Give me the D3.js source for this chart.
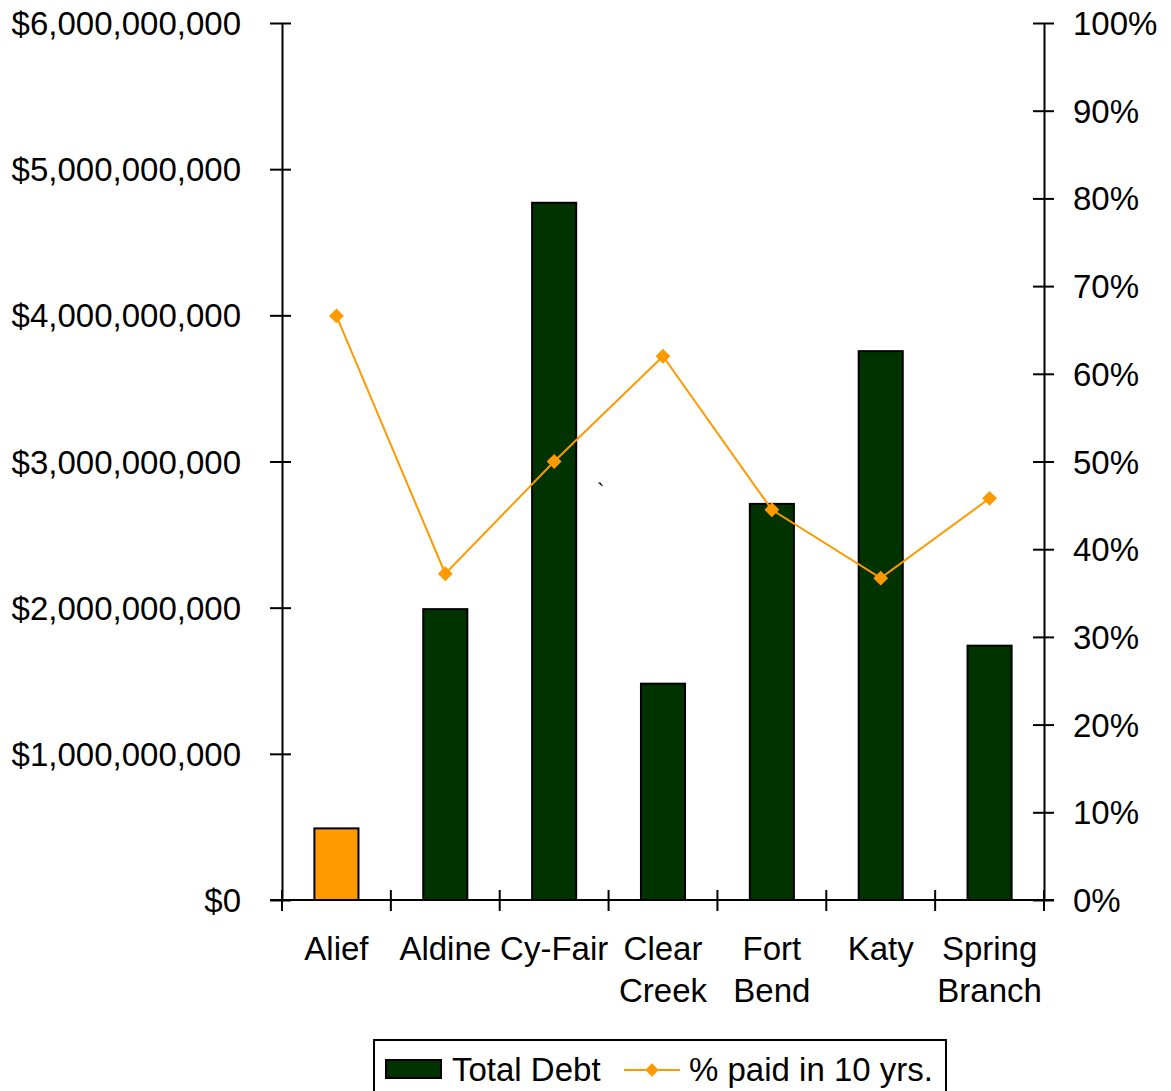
<!DOCTYPE html>
<html><head><meta charset="utf-8">
<script src="https://cdn.jsdelivr.net/npm/d3@7"></script>
<style>body{margin:0;background:#fff}svg{display:block}text{font-family:"Liberation Sans",Arial,sans-serif;fill:#000}</style>
</head><body>
<svg id="c" width="1171" height="1091"></svg>
<script>
const categories = [["Alief"],["Aldine"],["Cy-Fair"],["Clear","Creek"],["Fort","Bend"],["Katy"],["Spring","Branch"]];
const totalDebt = [490e6, 1990e6, 4770e6, 1480e6, 2710e6, 3755e6, 1740e6];
const pctPaid = [0.666, 0.372, 0.500, 0.620, 0.445, 0.367, 0.458];
const leftTicks = [0,1e9,2e9,3e9,4e9,5e9,6e9];
const rightTicks = [0,0.1,0.2,0.3,0.4,0.5,0.6,0.7,0.8,0.9,1.0];
const barColors = ["#FF9900","#003300","#003300","#003300","#003300","#003300","#003300"];

const svg = d3.select("#c");
const L=282, R=1044, T=23, B=900;
const x = d3.scaleBand().domain(categories.map((d,i)=>i)).range([L,R]).padding(0);
const yL = d3.scaleLinear().domain([0,6e9]).range([B,T]);
const yR = d3.scaleLinear().domain([0,1]).range([B,T]);
const fs = 33;

// bars
const bw = x.bandwidth()*0.405;
svg.selectAll("rect.bar").data(totalDebt).enter().append("rect")
  .attr("x",(d,i)=>x(i)+x.bandwidth()/2-bw/2).attr("y",d=>yL(d))
  .attr("width",bw).attr("height",d=>B-yL(d))
  .attr("fill",(d,i)=>barColors[i]).attr("stroke","#000").attr("stroke-width",2);

// left axis
const fmt = d=>"$"+d3.format(",")(d);
const gL = svg.append("g").attr("transform",`translate(${L},0)`)
  .call(d3.axisLeft(yL).tickValues(leftTicks).tickFormat(fmt).tickSizeInner(12).tickSizeOuter(0).tickPadding(29));
gL.selectAll(".tick line").attr("x1",9);
gL.selectAll("line,path").attr("stroke","#000").attr("stroke-width",2);
gL.selectAll("text").style("font-size",fs+"px").attr("font-family","Liberation Sans, Arial, sans-serif").attr("dy","0.35em");

// right axis
const gR = svg.append("g").attr("transform",`translate(${R},0)`)
  .call(d3.axisRight(yR).tickValues(rightTicks).tickFormat(d3.format(".0%")).tickSizeInner(10).tickSizeOuter(0).tickPadding(19));
gR.selectAll(".tick line").attr("x1",-11);
gR.selectAll("line,path").attr("stroke","#000").attr("stroke-width",2);
gR.selectAll("text").style("font-size",fs+"px").attr("font-family","Liberation Sans, Arial, sans-serif").attr("dy","0.35em");

// x axis
const gX = svg.append("g").attr("transform",`translate(0,${B})`);
gX.append("line").attr("x1",L-12).attr("x2",R+10).attr("stroke","#000").attr("stroke-width",2);
const edges = d3.range(categories.length+1).map(i=> i<categories.length ? x(i) : x(categories.length-1)+x.bandwidth());
gX.selectAll("line.t").data(edges).enter().append("line")
  .attr("x1",d=>d).attr("x2",d=>d).attr("y1",-10).attr("y2",11).attr("stroke","#000").attr("stroke-width",2);
const lab = gX.selectAll("text.cat").data(categories).enter().append("text")
  .attr("text-anchor","middle").style("font-size",fs+"px")
  .attr("transform",(d,i)=>`translate(${x(i)+x.bandwidth()/2},60)`);
lab.each(function(d){ d.forEach((s,j)=> d3.select(this).append("tspan").attr("x",0).attr("y",j*42).text(s)); });

// line
const line = d3.line().x((d,i)=>x(i)+x.bandwidth()/2).y(d=>yR(d));
svg.append("path").datum(pctPaid).attr("d",line).attr("fill","none").attr("stroke","#FF9900").attr("stroke-width",2);
const dsym = d3.symbol().type(d3.symbolSquare).size(110);
svg.selectAll("path.m").data(pctPaid).enter().append("path")
  .attr("d",dsym).attr("fill","#FF9900")
  .attr("transform",(d,i)=>`translate(${x(i)+x.bandwidth()/2},${yR(d)}) rotate(45)`);

// stray mark
svg.append("text").attr("x",597).attr("y",499).style("font-size","22px").text("`");

// legend
const lg = svg.append("g");
lg.append("rect").attr("x",374).attr("y",1040).attr("width",572).attr("height",60).attr("fill","#fff").attr("stroke","#000").attr("stroke-width",2);
lg.append("rect").attr("x",386).attr("y",1060).attr("width",55).attr("height",18).attr("fill","#003300").attr("stroke","#000").attr("stroke-width",2);
lg.append("text").attr("x",452).attr("y",1081).style("font-size",fs+"px").text("Total Debt");
lg.append("line").attr("x1",624).attr("x2",680).attr("y1",1070).attr("y2",1070).attr("stroke","#FF9900").attr("stroke-width",2);
lg.append("path").attr("d",d3.symbol().type(d3.symbolSquare).size(90)).attr("fill","#FF9900").attr("transform","translate(652,1070) rotate(45)");
lg.append("text").attr("x",689).attr("y",1081).style("font-size",fs+"px").text("% paid in 10 yrs.");
</script>
</body></html>
